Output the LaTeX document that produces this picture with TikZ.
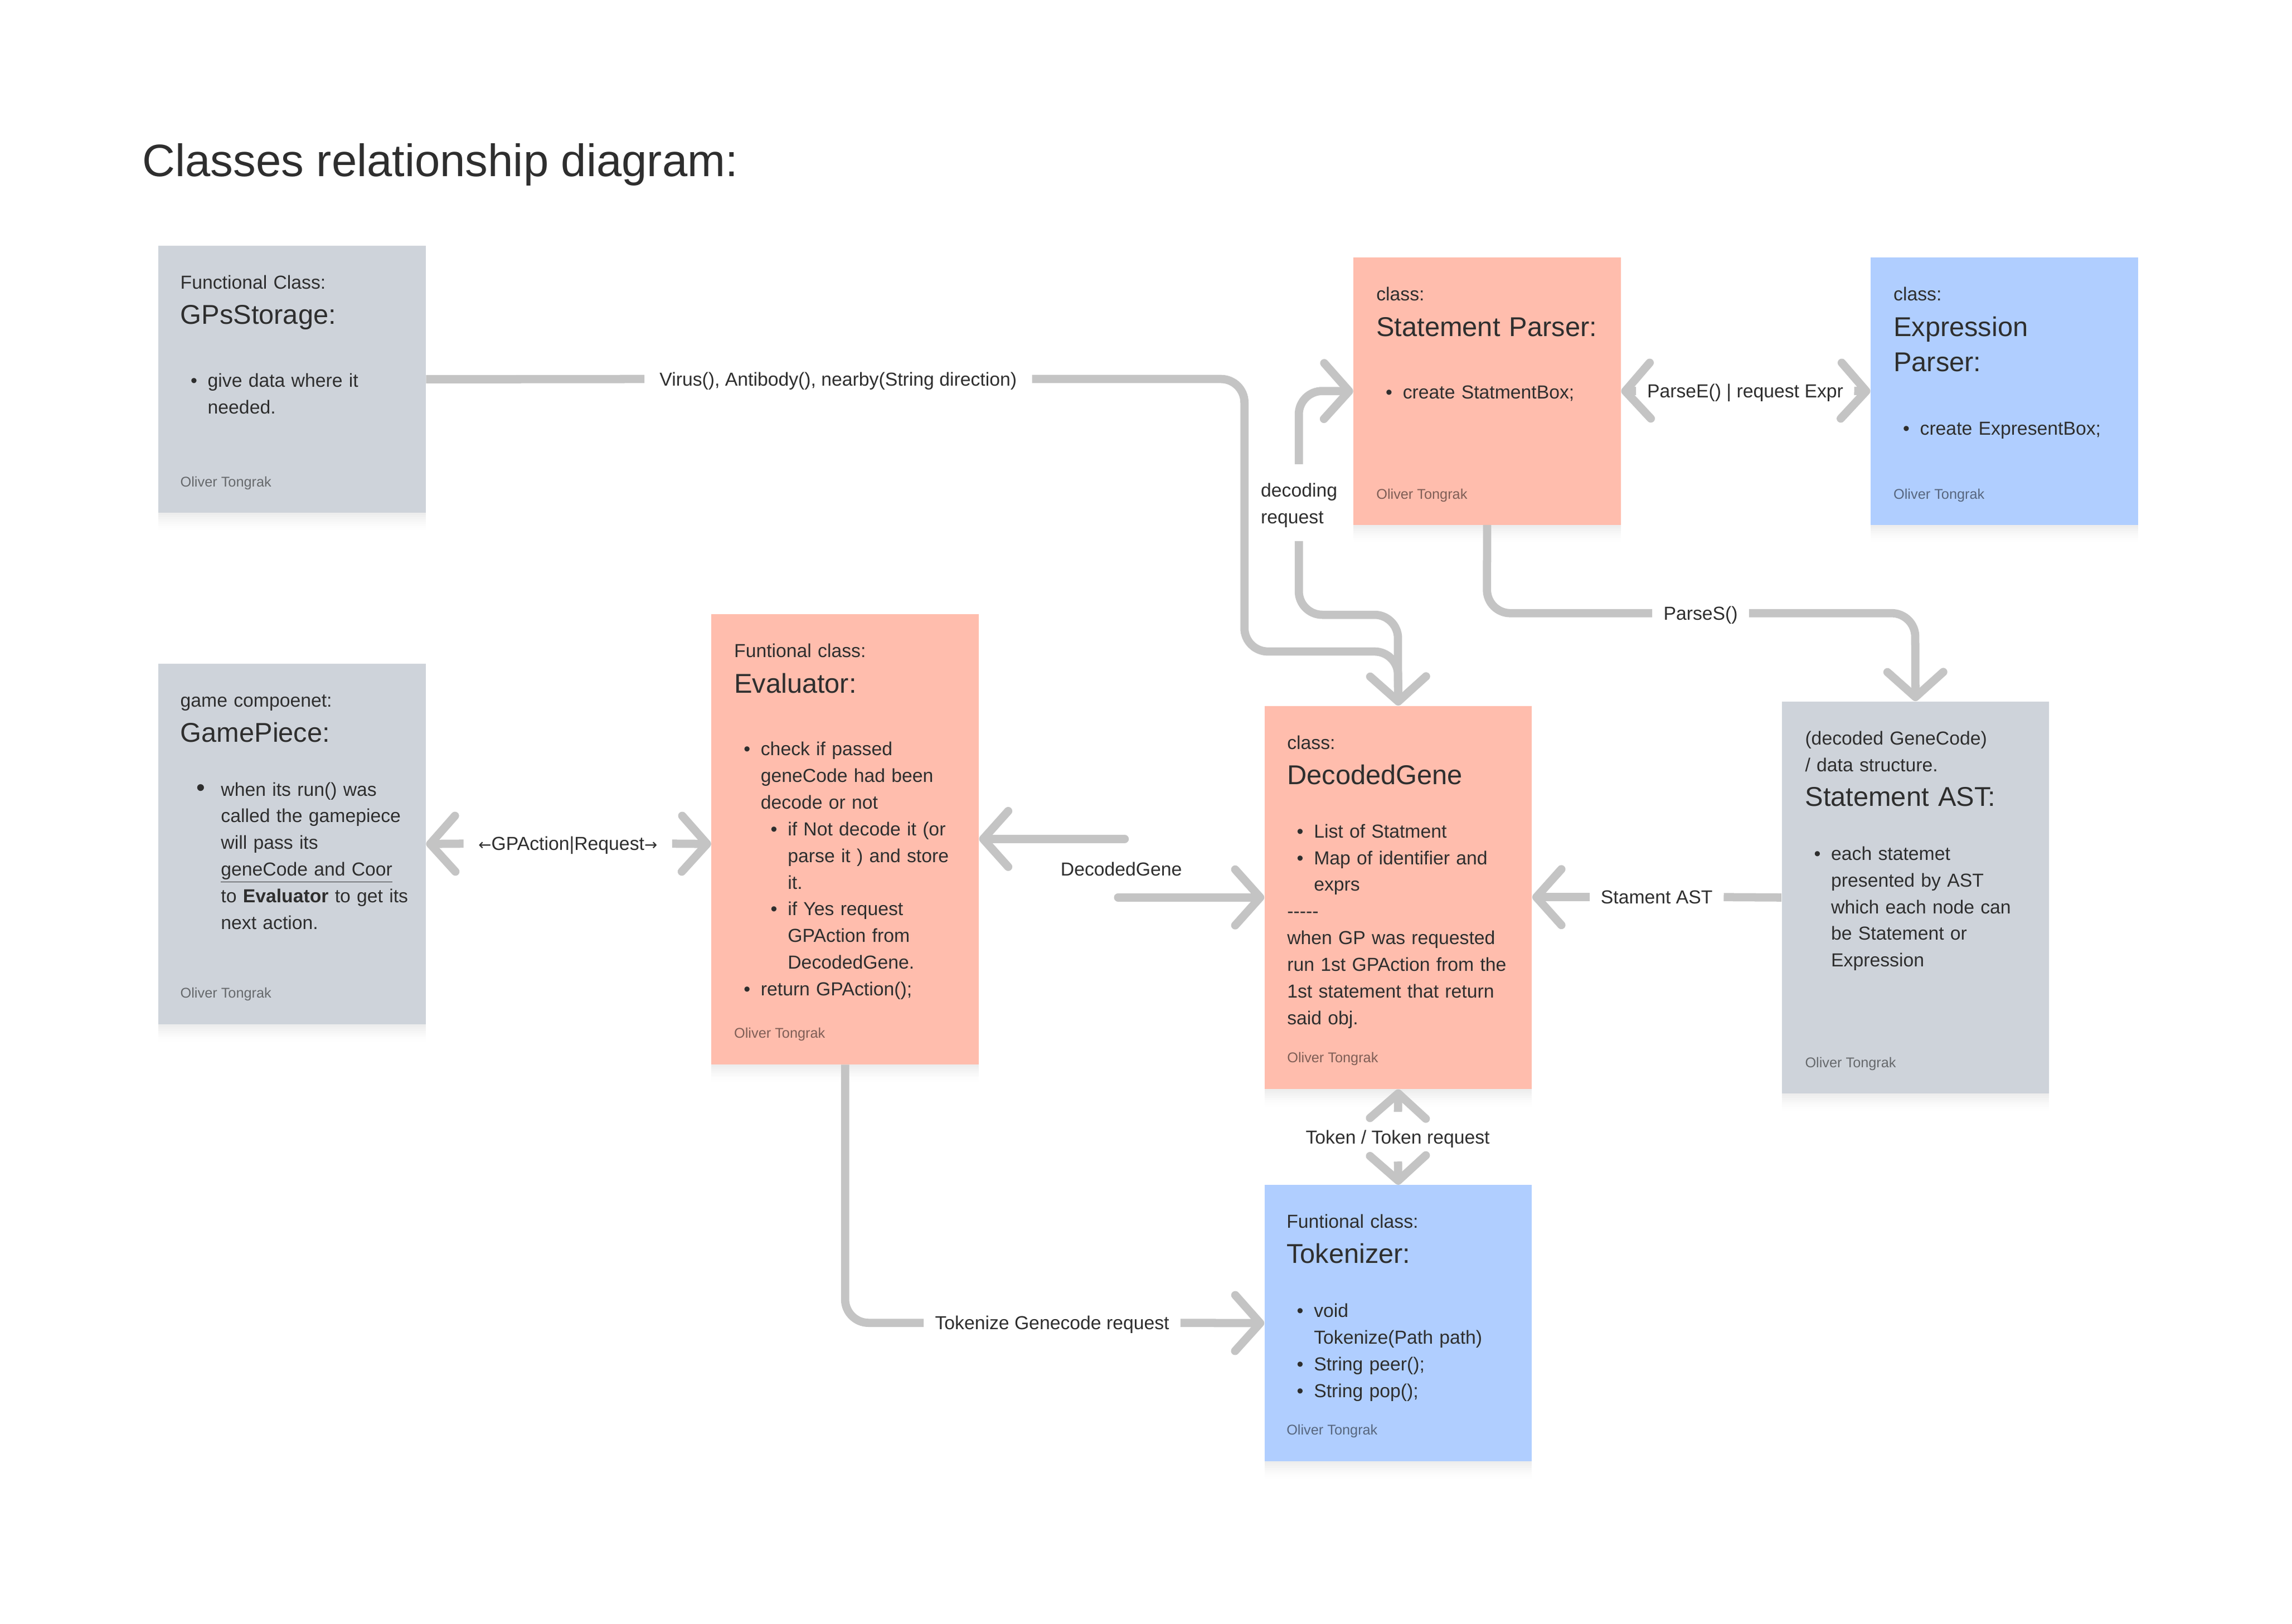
\documentclass[tikz,border=0pt]{standalone}
\usepackage{fontspec}
\setmainfont{Liberation Sans}
\newfontfamily\symfont{DejaVu Sans}
\usetikzlibrary{arrows.meta,calc,shadows}
\definecolor{boxgray}{HTML}{CED3DA}
\definecolor{boxsalmon}{HTML}{FFBDAD}
\definecolor{boxblue}{HTML}{B0CEFF}
\definecolor{linegray}{HTML}{C4C4C4}
\definecolor{ink}{HTML}{2E2E2E}
\newcommand\bl[1]{\makebox[11.6pt][l]{\textbullet}#1}
\newcommand\ct[1]{\hspace*{11.6pt}#1}
\newcommand\sbl[1]{\hspace*{18.3pt}\makebox[11.7pt][l]{\textbullet}#1}
\newcommand\sct[1]{\hspace*{30pt}#1}
\newcommand\bigbl[1]{\makebox[16.6pt][l]{\raisebox{0pt}{\fontsize{17}{17}\selectfont\textbullet}}#1}
\newcommand\bigct[1]{\hspace*{16.6pt}#1}
\begin{document}
\begin{tikzpicture}[x=1pt,y=-1pt,
  card/.style={anchor=north west, inner sep=0pt, minimum width=182pt,
    general shadow={fill=black, opacity=0.012, shadow yshift=-1.5pt},
    general shadow={fill=black, opacity=0.012, shadow yshift=-3pt},
    general shadow={fill=black, opacity=0.011, shadow yshift=-4.5pt},
    general shadow={fill=black, opacity=0.010, shadow yshift=-6pt},
    general shadow={fill=black, opacity=0.008, shadow yshift=-7.5pt},
    general shadow={fill=black, opacity=0.007, shadow yshift=-9pt},
    general shadow={fill=black, opacity=0.005, shadow yshift=-10.5pt},
    general shadow={fill=black, opacity=0.004, shadow yshift=-12pt}},
  graycard/.style={card, fill=boxgray},
  salmoncard/.style={card, fill=boxsalmon},
  bluecard/.style={card, fill=boxblue},
  hdr/.style={anchor=base west, inner sep=0pt, text=ink, font=\fontsize{12.8}{18.2}\selectfont, text width=250pt, align=left},
  ttl/.style={anchor=base west, inner sep=0pt, text=ink, font=\fontsize{18.5}{24.2}\selectfont, text width=250pt, align=left},
  body/.style={anchor=base west, inner sep=0pt, text=ink, font=\fontsize{12.8}{18.15}\selectfont, text width=250pt, align=left},
  foot/.style={anchor=base west, inner sep=0pt, text=black, text opacity=0.5, font=\fontsize{9.6}{11}\selectfont},
  conn/.style={draw=linegray, line width=5.6pt, rounded corners=16pt},
  clbl/.style={anchor=base, inner sep=0pt, text=ink, font=\fontsize{12.8}{18.5}\selectfont},
  >={Straight Barb[length=17pt, width=38pt, line width=5.6pt, round]}
]
\useasboundingbox (0,0) rectangle (1560,1105.5);
\fill[white] (0,0) rectangle (1560,1105.5);

% title
\node[anchor=base west, inner sep=0pt, text=ink, font=\fontsize{30.9}{36}\selectfont] (title) at (96.8,120.1) {Classes relationship diagram:};

% cards
\node[graycard, minimum height=182pt] (gps) at (107.6,167) {};
\node[graycard, minimum height=245.4pt] (gp) at (107.6,451.6) {};
\node[salmoncard, minimum height=306.3pt] (eval) at (484,418) {};
\node[salmoncard, minimum height=181.8pt] (sp) at (921,175.2) {};
\node[bluecard, minimum height=181.8pt] (ep) at (1273,175.2) {};
\node[salmoncard, minimum height=260.8pt] (dg) at (860.5,480.3) {};
\node[graycard, minimum height=266.9pt] (ast) at (1212.5,477.3) {};
\node[bluecard, minimum height=188pt] (tok) at (860.5,806.5) {};

% GPsStorage
\node[hdr] (gpsH) at ($(gps.north west)+(15,29.6)$) {Functional Class:};
\node[ttl] (gpsT) at ($(gps.north west)+(15,53.6)$) {GPsStorage:};
\node[body] (gpsB) at ($(gps.north west)+(22,96.4)$) {\bl{give data where it}\\ \ct{needed.}};
\node[foot] (gpsF) at ($(gps.north west)+(15,164.4)$) {Oliver Tongrak};

% GamePiece
\node[hdr] (gpH) at ($(gp.north west)+(15,29.8)$) {game compoenet:};
\node[ttl] (gpT) at ($(gp.north west)+(15,53.6)$) {GamePiece:};
\node[body] (gpB) at ($(gp.north west)+(26,90.2)$) {\bigbl{when its run() was}\\ \bigct{called the gamepiece}\\ \bigct{will pass its}\\ \bigct{\underline{geneCode and Coor}}\\ \bigct{to \textbf{Evaluator} to get its}\\ \bigct{next action.}};
\node[foot] (gpF) at ($(gp.north west)+(15,227.8)$) {Oliver Tongrak};

% Evaluator
\node[hdr] (evalH) at ($(eval.north west)+(15.5,29.6)$) {Funtional class:};
\node[ttl] (evalT) at ($(eval.north west)+(15.5,53.6)$) {Evaluator:};
\node[body] (evalB) at ($(eval.north west)+(22,96.4)$) {\bl{check if passed}\\ \ct{geneCode had been}\\ \ct{decode or not}\\ \sbl{if Not decode it (or}\\ \sct{parse it ) and store}\\ \sct{it.}\\ \sbl{if Yes request}\\ \sct{GPAction from}\\ \sct{DecodedGene.}\\ \bl{return GPAction();}};
\node[foot] (evalF) at ($(eval.north west)+(15.5,288.4)$) {Oliver Tongrak};

% Statement Parser
\node[hdr] (spH) at ($(sp.north west)+(15.6,29.6)$) {class:};
\node[ttl] (spT) at ($(sp.north west)+(15.6,53.6)$) {Statement Parser:};
\node[body] (spB) at ($(sp.north west)+(22,96.4)$) {\bl{create StatmentBox;}};
\node[foot] (spF) at ($(sp.north west)+(15.6,164.4)$) {Oliver Tongrak};

% Expression Parser
\node[hdr] (epH) at ($(ep.north west)+(15.6,29.6)$) {class:};
\node[ttl] (epT) at ($(ep.north west)+(15.6,53.6)$) {Expression\\ Parser:};
\node[body] (epB) at ($(ep.north west)+(22,120.9)$) {\bl{create ExpresentBox;}};
\node[foot] (epF) at ($(ep.north west)+(15.6,164.4)$) {Oliver Tongrak};

% DecodedGene
\node[hdr] (dgH) at ($(dg.north west)+(15.4,29.6)$) {class:};
\node[ttl] (dgT) at ($(dg.north west)+(15.4,53.7)$) {DecodedGene};
\node[body] (dgB) at ($(dg.north west)+(22,90.0)$) {\bl{List of Statment}\\ \bl{Map of identifier and}\\ \ct{exprs}\\ \hspace*{-6.6pt}-{}-{}-{}-{}-\\ \hspace*{-6.6pt}when GP was requested\\ \hspace*{-6.6pt}run 1st GPAction from the\\ \hspace*{-6.6pt}1st statement that return\\ \hspace*{-6.6pt}said obj.};
\node[foot] (dgF) at ($(dg.north west)+(15.4,243.1)$) {Oliver Tongrak};

% Statement AST
\node[hdr] (astH) at ($(ast.north west)+(15.9,29.6)$) {(decoded GeneCode)\\ / data structure.};
\node[ttl] (astT) at ($(ast.north west)+(15.9,71.6)$) {Statement AST:};
\node[body] (astB) at ($(ast.north west)+(22,108.2)$) {\bl{each statemet}\\ \ct{presented by AST}\\ \ct{which each node can}\\ \ct{be Statement or}\\ \ct{Expression}};
\node[foot] (astF) at ($(ast.north west)+(15.9,249.3)$) {Oliver Tongrak};

% Tokenizer
\node[hdr] (tokH) at ($(tok.north west)+(15,29.6)$) {Funtional class:};
\node[ttl] (tokT) at ($(tok.north west)+(15,53.5)$) {Tokenizer:};
\node[body] (tokB) at ($(tok.north west)+(22,90.2)$) {\bl{void}\\ \ct{Tokenize(Path path)}\\ \bl{String peer();}\\ \bl{String pop();}};
\node[foot] (tokF) at ($(tok.north west)+(15,170.3)$) {Oliver Tongrak};

% connector free ends
\coordinate (vA) at (438.6,258);
\coordinate (vB) at (702.5,258);
\coordinate (dgIn) at (951.5,468);
\coordinate (drA) at (884,368.4);
\coordinate (drB) at (884,316);
\coordinate (peA) at (1113.5,266.1);
\coordinate (peB) at (1262,266.1);
\coordinate (psA) at (1124.5,417.4);
\coordinate (psB) at (1190.4,417.4);
\coordinate (gaA) at (315.5,574.3);
\coordinate (gaB) at (457.5,574.3);
\coordinate (dgA) at (765.5,571.1);
\coordinate (dgB) at (761,610.9);
\coordinate (saA) at (1082,610.7);
\coordinate (saB) at (1173.2,610.7);
\coordinate (tkA) at (951.5,756.8);
\coordinate (tkB) at (951.5,790.7);
\coordinate (tgA) at (628.7,900.5);
\coordinate (tgB) at (803.5,900.5);

% connectors
\draw[conn] (gps.east) -- (vA);
\draw[conn,->] (vB) -- (847,258) -- (847,443.5) -- (951.5,443.5) -- (dg.north);
\draw[conn] (dgIn) -- (951.5,418.5) -- (884,418.5) -- (drA);
\draw[conn,->] (drB) -- (884,266.1) -- (sp.west);
\draw[conn,->] (peA) -- (sp.east);
\draw[conn,->] (peB) -- (ep.west);
\draw[conn] (sp.south) -- (1012,417.4) -- (psA);
\draw[conn,->] (psB) -- (1303.5,417.4) -- (ast.north);
\draw[conn,->] (gaA) -- (gp.east);
\draw[conn,->] (gaB) -- (gp.east -| eval.west);
\draw[conn,->,line cap=round] (dgA) -- (dgA -| eval.east);
\draw[conn,->,line cap=round] (dgB) -- (dgB -| dg.west);
\draw[conn,->] (saA) -- (saA -| dg.east);
\draw[conn] (ast.west) -- (saB);
\draw[conn,->] (tkA) -- (dg.south);
\draw[conn,->] (tkB) -- (tok.north);
\draw[conn] (eval.south) |- (tgA);
\draw[conn,->] (tgB) -- (tok.west);

% connector labels
\node[clbl] (lv) at (570.5,262.6) {Virus(), Antibody(), nearby(String direction)};
\node[clbl, anchor=base west, align=left, text width=80pt] (ldr) at (858,338.1) {decoding\\ request};
\node[clbl] (lpe) at (1187.8,270.7) {ParseE() | request Expr};
\node[clbl] (lps) at (1157.5,422) {ParseS()};
\node[clbl] (lga) at (386.5,578.9) {{\symfont\fontsize{10.5}{12}\selectfont ←}GPAction|Request{\symfont\fontsize{10.5}{12}\selectfont →}};
\node[clbl] (ldg) at (763.2,596.2) {DecodedGene};
\node[clbl] (lsa) at (1127.6,615.3) {Stament AST};
\node[clbl] (ltk) at (951.3,778.8) {Token / Token request};
\node[clbl] (ltg) at (716.1,905.1) {Tokenize Genecode request};
\end{tikzpicture}
\end{document}
